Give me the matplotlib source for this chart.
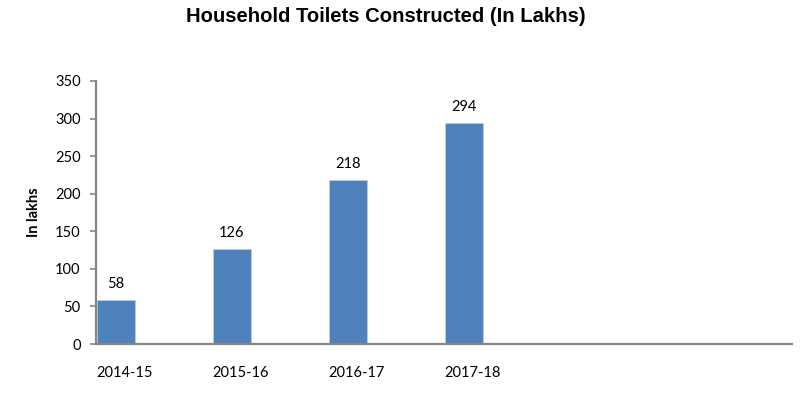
import matplotlib
matplotlib.use("Agg")
import matplotlib.pyplot as plt

categories = ["2014-15", "2015-16", "2016-17", "2017-18", "", ""]
values = [58, 126, 218, 294]
yticks = [0, 50, 100, 150, 200, 250, 300, 350]

fig = plt.figure(figsize=(8.12, 3.93), dpi=100)
ax = fig.add_axes([96/812, 1-344/393, (792-96)/812, (344-81)/393])

pos = list(range(len(values)))
bar_w = 0.33
bars = ax.bar([p + 0.005 for p in pos], values, width=bar_w, align="edge",
              color="#4F81BD", edgecolor="#B9CDE5", linewidth=0.6, zorder=2)

lab_font = dict(family=["Lato", "DejaVu Sans"], size=10.5, color="black")
for b, v in zip(bars, values):
    ax.annotate(str(v), (b.get_x() + b.get_width()/2, v),
                xytext=(0, 6.5), textcoords="offset points",
                ha="center", va="bottom", **lab_font)

ax.set_xlim(0, 6)
ax.set_ylim(0, 350)
ax.set_yticks(yticks)
ax.set_yticklabels([str(t) for t in yticks], **lab_font)
ax.set_xticks(range(len(categories)))
ax.set_xticklabels(categories, ha="left", **lab_font)
ax.tick_params(axis="x", length=0, pad=15.5)
ax.tick_params(axis="y", length=4.5, width=1.2, color="#868686", pad=6.5, direction="out")

for s in ("top", "right"):
    ax.spines[s].set_visible(False)
for s in ("left", "bottom"):
    ax.spines[s].set_color("#868686")
    ax.spines[s].set_linewidth(1.6)

ax.set_ylabel("In lakhs", family=["Lato", "DejaVu Sans"], fontweight="bold",
              fontsize=10.5)
ax.yaxis.set_label_coords(-(96-41)/696, 0.5)

fig.text(386/812, 1-16.5/393, "Household Toilets Constructed (In Lakhs)",
         family=["Liberation Sans", "DejaVu Sans"], fontweight="bold",
         fontsize=14.6, ha="center", va="center")

fig.savefig("out.png", dpi=100, facecolor="white")
